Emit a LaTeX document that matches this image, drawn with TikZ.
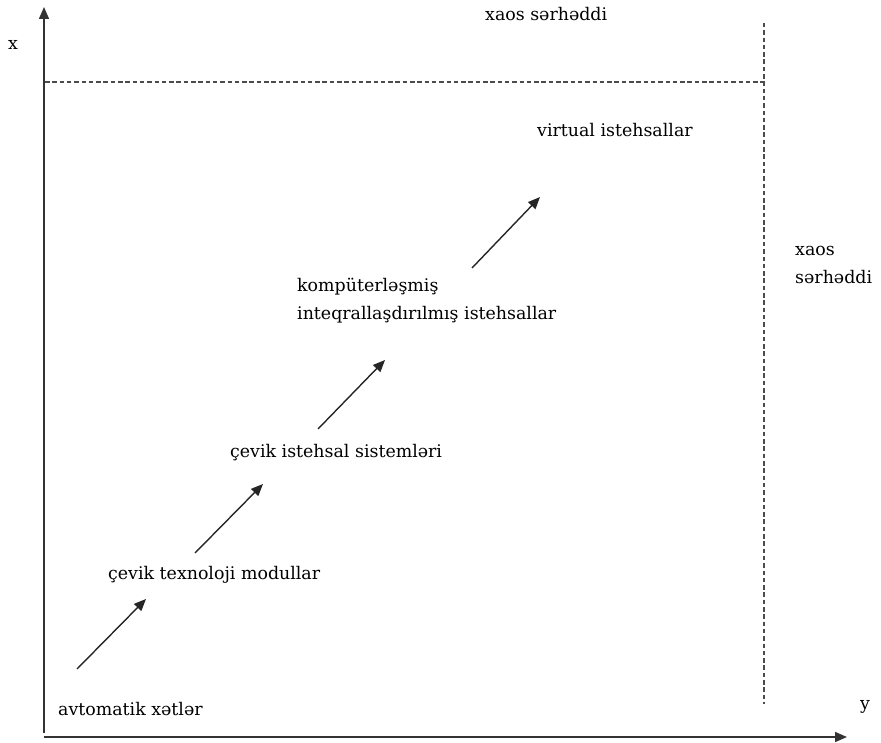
\documentclass[tikz,border=0pt]{standalone}
\usepackage{fontspec}
\setmainfont{DejaVu Serif}
\usetikzlibrary{arrows.meta}
\begin{document}
\begin{tikzpicture}[x=1pt,y=-1pt,
  lbl/.style={anchor=west,inner sep=0pt,font=\fontsize{17.4}{28}\selectfont,text=black},
  axis/.style={line width=1.5pt,black!80,-{Triangle[length=12pt,width=10pt]}},
  stepar/.style={line width=1.4pt,black!85,-{Triangle[length=12pt,width=10pt]}},
  bound/.style={line width=1.2pt,black!70,dash pattern=on 4.5pt off 2.8pt}]
\useasboundingbox (0,0) rectangle (881,743);
% axes
\coordinate (O) at (44,737);
\coordinate (Ytop) at (44,7);
\coordinate (Xend) at (847,737);
\draw[axis] (44,733) -- (Ytop);
\draw[axis] (O) -- (Xend);
% chaos boundaries
\coordinate (hb1) at (45,82);
\coordinate (hb2) at (764,82);
\coordinate (vb1) at (764,23);
\coordinate (vb2) at (764,704);
\draw[bound] (hb1) -- (hb2);
\draw[bound] (vb1) -- (vb2);
% labels
\node[lbl] (xl) at (8,45) {x};
\node[lbl] (yl) at (860,707) {y};
\node[lbl] (top) at (485,14) {xaos sərhəddi};
\node[lbl,align=left] (right) at (795,265) {xaos\\sərhəddi};
\node[lbl] (n1) at (58,709) {avtomatik xətlər};
\node[lbl] (n2) at (108,575) {çevik texnoloji modullar};
\node[lbl] (n3) at (230,453) {çevik istehsal sistemləri};
\node[lbl,align=left] (n4) at (297,301) {kompüterləşmiş\\inteqrallaşdırılmış istehsallar};
\node[lbl] (n5) at (537,130) {virtual istehsallar};
% arrows
\coordinate (a1s) at (77,669); \coordinate (a1e) at (146,599);
\coordinate (a2s) at (195,553); \coordinate (a2e) at (263,484);
\coordinate (a3s) at (318,429); \coordinate (a3e) at (385,360);
\coordinate (a4s) at (472,268); \coordinate (a4e) at (540,197);
\draw[stepar] (a1s) -- (a1e);
\draw[stepar] (a2s) -- (a2e);
\draw[stepar] (a3s) -- (a3e);
\draw[stepar] (a4s) -- (a4e);
\end{tikzpicture}
\end{document}
